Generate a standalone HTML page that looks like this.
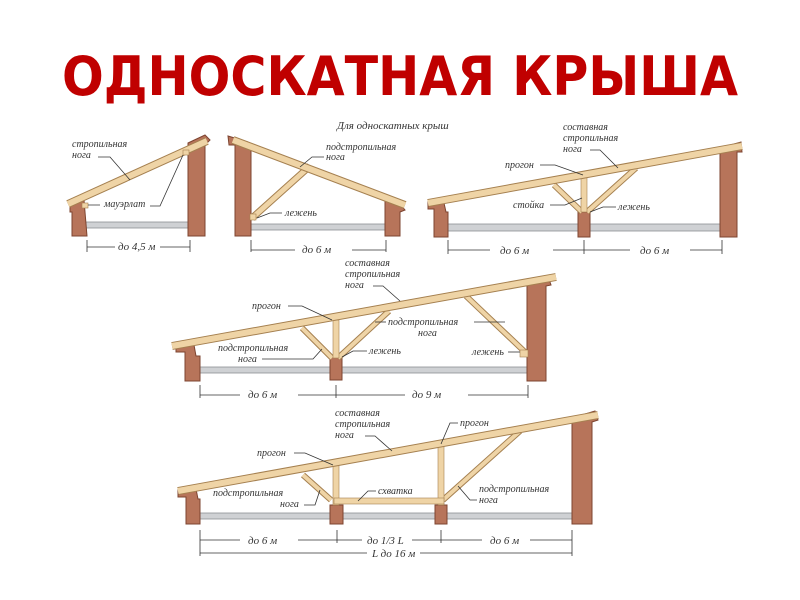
<!DOCTYPE html>
<html><head><meta charset="utf-8"><style>
html,body{margin:0;padding:0;background:#fff;width:800px;height:600px;overflow:hidden}
svg{display:block}
.t{font-family:"Liberation Serif","DejaVu Serif",serif;font-style:italic;font-size:10px;fill:#333}
.d{font-family:"Liberation Serif","DejaVu Serif",serif;font-style:italic;font-size:11px;fill:#333}
.w{fill:#b7745a;stroke:#7d4430;stroke-width:1}
.b{fill:#cfd1d4;stroke:#8d9094;stroke-width:0.8}
.to{stroke:#a58050;stroke-linecap:butt}
.ti{stroke:#efd4a6;stroke-linecap:butt}
.l{stroke:#333;stroke-width:0.8;fill:none}
.dl{stroke:#333;stroke-width:0.8;fill:none}
</style></head><body>
<svg width="800" height="600" viewBox="0 0 800 600" xmlns="http://www.w3.org/2000/svg">
<text x="400" y="95" text-anchor="middle" textLength="676" lengthAdjust="spacingAndGlyphs" style="font-family:'DejaVu Sans','Liberation Sans',sans-serif;font-weight:bold;font-size:54px;fill:#c00000">ОДНОСКАТНАЯ КРЫША</text>
<text class="t" x="337" y="129" style="font-size:11px">Для односкатных крыш</text>

<!-- Diagram 1 -->
<rect class="b" x="86" y="222" width="104" height="6"/>
<path class="w" d="M70 200 L84 200 L87 236 L72 236 L72 212 L70 212 Z"/>
<path class="w" d="M188 143 L205 135 L210 140 L205 145 L205 236 L188 236 Z"/>
<line class="to" x1="68" y1="204" x2="207" y2="141" stroke-width="8"/>
<line class="ti" x1="68" y1="204" x2="207" y2="141" stroke-width="6"/>
<rect x="82" y="203" width="6" height="5" fill="#efd4a6" stroke="#a58050" stroke-width="0.6"/>
<rect x="183" y="150" width="6" height="5" fill="#efd4a6" stroke="#a58050" stroke-width="0.6"/>
<text class="t" x="72" y="147">стропильная</text><text class="t" x="72" y="158">нога</text>
<path class="l" d="M98 157 L110 157 L130 180"/>
<text class="t" x="104" y="207">мауэрлат</text>
<path class="l" d="M88 205 L100 205 M150 206 L160 206 L183 155"/>
<path class="dl" d="M87 240 V252 M190 240 V252 M87 247 H115 M160 247 H190"/>
<text class="d" x="118" y="250">до 4,5 м</text>

<!-- Diagram 2 -->
<rect class="b" x="250" y="224" width="136" height="6"/>
<path class="w" d="M228 136 L248 142 L248 148 L251 148 L251 236 L235 236 L235 145 L229 145 Z"/>
<path class="w" d="M385 200 L400 204 L405 210 L400 212 L400 236 L385 236 Z"/>
<line class="to" x1="252" y1="218" x2="310" y2="166" stroke-width="7"/>
<line class="ti" x1="252" y1="218" x2="310" y2="166" stroke-width="5"/>
<line class="to" x1="233" y1="140" x2="405" y2="205" stroke-width="8"/>
<line class="ti" x1="233" y1="140" x2="405" y2="205" stroke-width="6"/>
<rect x="250" y="214" width="6" height="6" fill="#efd4a6" stroke="#a58050" stroke-width="0.6"/>
<text class="t" x="326" y="150">подстропильная</text><text class="t" x="326" y="160">нога</text>
<path class="l" d="M324 157 L312 157 L300 167"/>
<text class="t" x="285" y="216">лежень</text>
<path class="l" d="M282 213 L270 213 L257 218"/>
<path class="dl" d="M251 240 V252 M386 240 V252 M251 250 H295 M352 250 H386"/>
<text class="d" x="302" y="253">до 6 м</text>

<!-- Diagram 3 -->
<rect class="b" x="448" y="224" width="272" height="7"/>
<path class="w" d="M428 200 L444 203 L446 212 L448 212 L448 237 L434 237 L434 209 L428 209 Z"/>
<path class="w" d="M578 212 L590 212 L590 237 L578 237 Z"/>
<path class="w" d="M720 148 L741 142 L742 152 L737 152 L737 237 L720 237 Z"/>
<line class="to" x1="554" y1="185" x2="582" y2="212" stroke-width="6"/>
<line class="ti" x1="554" y1="185" x2="582" y2="212" stroke-width="4"/>
<line class="to" x1="587" y1="212" x2="636" y2="168" stroke-width="6"/>
<line class="ti" x1="587" y1="212" x2="636" y2="168" stroke-width="4"/>
<rect x="581" y="177" width="6" height="35" fill="#efd4a6" stroke="#a58050" stroke-width="0.6"/>
<line class="to" x1="428" y1="203" x2="742" y2="146" stroke-width="8"/>
<line class="ti" x1="428" y1="203" x2="742" y2="146" stroke-width="6"/>
<text class="t" x="563" y="130">составная</text><text class="t" x="563" y="141">стропильная</text><text class="t" x="563" y="152">нога</text>
<path class="l" d="M590 150 L600 150 L618 168"/>
<text class="t" x="505" y="168">прогон</text>
<path class="l" d="M540 165 L555 165 L583 175"/>
<text class="t" x="513" y="208">стойка</text>
<path class="l" d="M550 205 L565 205 L582 198"/>
<text class="t" x="618" y="210">лежень</text>
<path class="l" d="M616 207 L603 207 L590 212"/>
<path class="dl" d="M448 240 V254 M584 240 V254 M722 240 V254 M448 250 H490 M553 250 H584 M584 250 H630 M690 250 H722"/>
<text class="d" x="500" y="254">до 6 м</text><text class="d" x="640" y="254">до 6 м</text>

<!-- Diagram 4 -->
<rect class="b" x="200" y="367" width="328" height="6"/>
<path class="w" d="M176 343 L194 345 L196 356 L200 356 L200 381 L185 381 L185 352 L176 352 Z"/>
<path class="w" d="M330 357 L342 357 L342 380 L330 380 Z"/>
<path class="w" d="M527 283 L548 276 L551 285 L546 286 L546 381 L527 381 Z"/>
<line class="to" x1="302" y1="328" x2="332" y2="358" stroke-width="6"/>
<line class="ti" x1="302" y1="328" x2="332" y2="358" stroke-width="4"/>
<line class="to" x1="338" y1="358" x2="389" y2="311" stroke-width="6"/>
<line class="ti" x1="338" y1="358" x2="389" y2="311" stroke-width="4"/>
<line class="to" x1="466" y1="296" x2="526" y2="353" stroke-width="6"/>
<line class="ti" x1="466" y1="296" x2="526" y2="353" stroke-width="4"/>
<rect x="333" y="320" width="6" height="38" fill="#efd4a6" stroke="#a58050" stroke-width="0.6"/>
<rect x="520" y="350" width="8" height="7" fill="#efd4a6" stroke="#a58050" stroke-width="0.6"/>
<line class="to" x1="172" y1="346" x2="556" y2="277" stroke-width="8"/>
<line class="ti" x1="172" y1="346" x2="556" y2="277" stroke-width="6"/>
<text class="t" x="345" y="266">составная</text><text class="t" x="345" y="277">стропильная</text><text class="t" x="345" y="288">нога</text>
<path class="l" d="M373 286 L383 286 L400 301"/>
<text class="t" x="252" y="309">прогон</text>
<path class="l" d="M288 306 L302 306 L332 320"/>
<text class="t" x="218" y="351">подстропильная</text><text class="t" x="238" y="362">нога</text>
<path class="l" d="M262 359 L313 359 L322 349"/>
<text class="t" x="388" y="325">подстропильная</text><text class="t" x="418" y="336">нога</text>
<path class="l" d="M386 322 L375 322"/>
<path class="l" d="M474 322 L492 322 M488 322 L505 322"/>
<text class="t" x="369" y="354">лежень</text>
<path class="l" d="M367 351 L353 351 L342 357"/>
<text class="t" x="472" y="355">лежень</text>
<path class="l" d="M508 352 L520 352"/>
<path class="dl" d="M200 385 V398 M336 385 V398 M528 385 V398 M200 395 H240 M298 395 H336 M336 395 H405 M468 395 H528"/>
<text class="d" x="248" y="398">до 6 м</text><text class="d" x="412" y="398">до 9 м</text>

<!-- Diagram 5 -->
<rect class="b" x="200" y="513" width="372" height="6"/>
<path class="w" d="M178 488 L196 489 L198 499 L200 499 L200 524 L186 524 L186 497 L178 497 Z"/>
<path class="w" d="M330 505 L343 505 L343 524 L330 524 Z"/>
<path class="w" d="M435 505 L447 505 L447 524 L435 524 Z"/>
<path class="w" d="M572 418 L595 411 L598 420 L592 422 L592 524 L572 524 Z"/>
<line class="to" x1="303" y1="475" x2="331" y2="500" stroke-width="6"/>
<line class="ti" x1="303" y1="475" x2="331" y2="500" stroke-width="4"/>
<line class="to" x1="443" y1="500" x2="520" y2="431" stroke-width="6"/>
<line class="ti" x1="443" y1="500" x2="520" y2="431" stroke-width="4"/>
<rect x="333" y="465" width="6" height="40" fill="#efd4a6" stroke="#a58050" stroke-width="0.6"/>
<rect x="438" y="446" width="6" height="59" fill="#efd4a6" stroke="#a58050" stroke-width="0.6"/>
<rect x="334" y="498" width="110" height="6" fill="#efd4a6" stroke="#a58050" stroke-width="0.6"/>
<line class="to" x1="178" y1="491" x2="598" y2="415" stroke-width="8"/>
<line class="ti" x1="178" y1="491" x2="598" y2="415" stroke-width="6"/>
<text class="t" x="335" y="416">составная</text><text class="t" x="335" y="427">стропильная</text><text class="t" x="335" y="438">нога</text>
<path class="l" d="M365 436 L375 436 L392 451"/>
<text class="t" x="460" y="426">прогон</text>
<path class="l" d="M458 423 L450 423 L441 444"/>
<text class="t" x="257" y="456">прогон</text>
<path class="l" d="M294 453 L305 453 L333 465"/>
<text class="t" x="213" y="496">подстропильная</text><text class="t" x="280" y="507">нога</text>
<path class="l" d="M304 505 L315 505 L320 490"/>
<text class="t" x="378" y="494">схватка</text>
<path class="l" d="M376 491 L368 491 L358 501"/>
<text class="t" x="479" y="492">подстропильная</text><text class="t" x="479" y="503">нога</text>
<path class="l" d="M477 500 L470 500 L458 486"/>
<path class="dl" d="M200 530 V556 M337 530 V543 M441 530 V543 M572 530 V556 M200 540 H240 M298 540 H337 M337 540 H362 M412 540 H441 M441 540 H482 M530 540 H572 M200 553 H367 M420 553 H572"/>
<text class="d" x="248" y="544">до 6 м</text><text class="d" x="367" y="544">до 1/3 L</text><text class="d" x="490" y="544">до 6 м</text>
<text class="d" x="372" y="557">L до 16 м</text>
</svg>
</body></html>
